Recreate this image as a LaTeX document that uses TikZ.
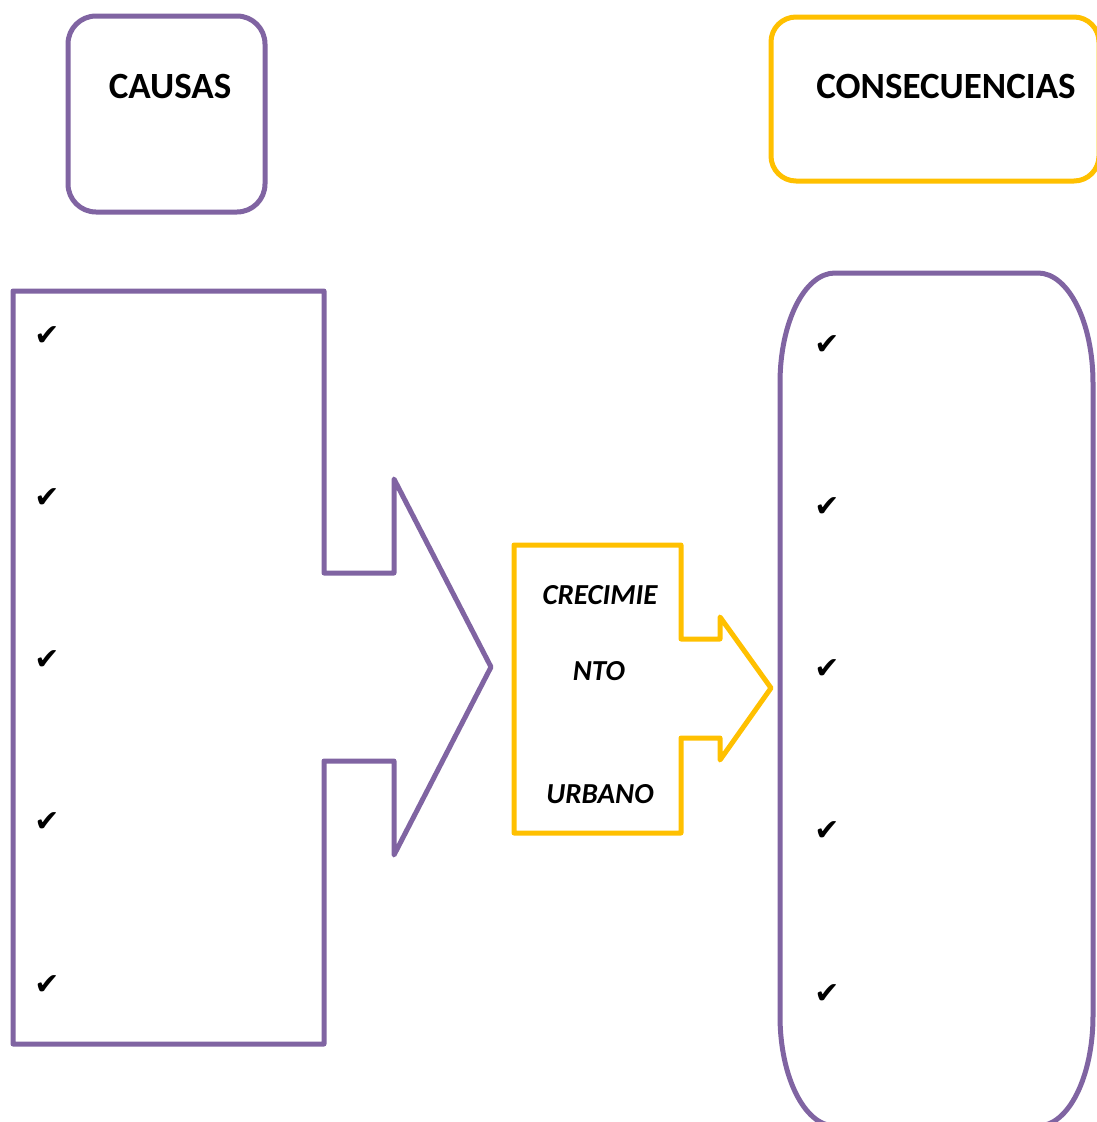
\documentclass[tikz,border=0pt]{standalone}
\usepackage{fontspec}
\setmainfont{Carlito}
\newfontfamily\checkfont{DejaVu Sans}

\definecolor{causecolor}{HTML}{8064A2}
\definecolor{urbancolor}{HTML}{FFC000}

\begin{document}
\begin{tikzpicture}[x = 1pt, y = -1pt, line width = 5pt, line join = round, font = \bfseries]

	% Definition

	\def\Rx{55pt}		% Corner radii of the list of consequences
	\def\Ry{110pt}

	\useasboundingbox (0, 0) rectangle (1096, 1122);

	% Headings

	\draw [causecolor, rounded corners = 28pt] (68, 16) rectangle (265, 212);
	\node (causas) at (170, 87) {\fontsize{37}{44}\selectfont CAUSAS};

	\draw [urbancolor, rounded corners = 25pt] (771, 17) rectangle (1099, 181);
	\node (consecuencias) at (946, 87) {\fontsize{37}{44}\selectfont CONSECUENCIAS};

	% Causes: block arrow

	\draw [causecolor] (13, 291) -- (324, 291) -- (324, 573) -- (394, 573) -- (394, 479)
		-- (491, 667) -- (394, 855) -- (394, 761) -- (324, 761) -- (324, 1044) -- (13, 1044) -- cycle;

	% Urban growth: small block arrow

	\draw [urbancolor] (514, 545) -- (681, 545) -- (681, 639) -- (720, 639) -- (720, 617)
		-- (771, 688) -- (720, 760) -- (720, 738) -- (681, 738) -- (681, 833) -- (514, 833) -- cycle;

	\node (crecimie) at (600, 595) {\fontsize{29}{34}\selectfont\itshape CRECIMIE};
	\node (nto) at (599, 671) {\fontsize{29}{34}\selectfont\itshape NTO};
	\node (urbano) at (600, 794) {\fontsize{29}{34}\selectfont\itshape URBANO};

	% Consequences: rounded list

	\draw [causecolor] (835, 273) -- (1038, 273) arc [start angle = 90, end angle = 0, x radius = \Rx, y radius = \Ry]
		-- (1093, 1016) arc [start angle = 0, end angle = -90, x radius = \Rx, y radius = \Ry]
		-- (835, 1126) arc [start angle = 270, end angle = 180, x radius = \Rx, y radius = \Ry]
		-- (780, 383) arc [start angle = 180, end angle = 90, x radius = \Rx, y radius = \Ry] -- cycle;

	% Check marks

	\foreach \y [count = \i] in {336, 498, 660, 822, 985}
		\node (cause-\i) at (47, \y) {\checkfont\fontsize{30}{34}\selectfont ✔};

	\foreach \y [count = \i] in {345, 507, 669, 831, 994}
		\node (effect-\i) at (827, \y) {\checkfont\fontsize{30}{34}\selectfont ✔};

\end{tikzpicture}
\end{document}
